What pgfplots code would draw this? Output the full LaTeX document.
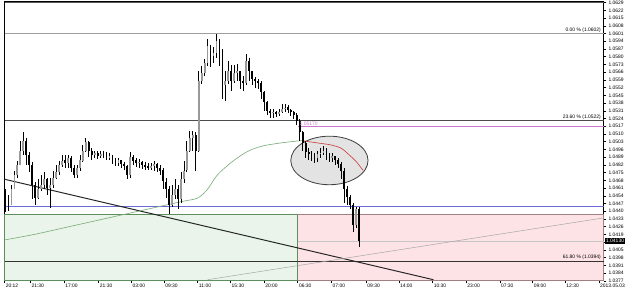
\documentclass[border=0pt]{standalone}
\usepackage{pgfplots}
\pgfplotsset{compat=1.18}
\usepackage{pgfplotstable}
\usepackage{fontspec}
\setmainfont{Liberation Sans}
\newcommand\tfont{\fontsize{3}{3.4}\selectfont}
\definecolor{grect}{HTML}{EAF4EA}
\definecolor{gbord}{HTML}{5C8F5C}
\definecolor{prect}{HTML}{FDE3E6}
\definecolor{pbord}{HTML}{A08080}
\definecolor{purp}{HTML}{CC77CC}
\definecolor{blu}{HTML}{6B6BD6}
\definecolor{mag}{HTML}{7FB07F}
\definecolor{mar}{HTML}{CC4444}

\pgfplotstableread{
x o h l c
1 1.0455 1.0460 1.0439 1.0451
4 1.0451 1.0455 1.0440 1.0446
7 1.0446 1.0464 1.0446 1.0460
10 1.0460 1.0477 1.0460 1.0473
13 1.0473 1.0486 1.0470 1.0482
16 1.0482 1.0504 1.0482 1.0495
19 1.0495 1.0512 1.0491 1.0504
22 1.0504 1.0506 1.0482 1.0491
25 1.0491 1.0494 1.0476 1.0482
28 1.0482 1.0485 1.0451 1.0464
31 1.0464 1.0467 1.0446 1.0452
34 1.0452 1.0469 1.0451 1.0460
37 1.0460 1.0473 1.0458 1.0464
40 1.0464 1.0476 1.0460 1.0469
43 1.0469 1.0470 1.0455 1.0461
46 1.0461 1.0470 1.0443 1.0464
49 1.0464 1.0477 1.0461 1.0470
52 1.0470 1.0482 1.0469 1.0476
55 1.0476 1.0486 1.0473 1.0482
58 1.0482 1.0491 1.0480 1.0486
61 1.0486 1.0491 1.0479 1.0484
64 1.0484 1.0491 1.0479 1.0488
67 1.0488 1.0490 1.0476 1.0479
70 1.0479 1.0482 1.0470 1.0473
73 1.0473 1.0482 1.0470 1.0479
76 1.0479 1.0491 1.0477 1.0486
79 1.0486 1.0500 1.0485 1.0495
82 1.0495 1.0506 1.0494 1.0503
85 1.0503 1.0504 1.0489 1.0495
88 1.0495 1.0497 1.0486 1.0491
91 1.0491 1.0495 1.0488 1.0493
94 1.0493 1.0495 1.0487 1.0490
97 1.0490 1.0495 1.0488 1.0492
100 1.0492 1.0495 1.0488 1.0491
103 1.0491 1.0494 1.0486 1.0489
106 1.0489 1.0493 1.0486 1.0490
109 1.0490 1.0491 1.0483 1.0486
112 1.0486 1.0488 1.0481 1.0484
115 1.0484 1.0488 1.0481 1.0486
118 1.0486 1.0486 1.0479 1.0483
121 1.0483 1.0485 1.0477 1.0481
124 1.0481 1.0482 1.0469 1.0473
127 1.0473 1.0494 1.0470 1.0489
130 1.0489 1.0491 1.0482 1.0486
133 1.0486 1.0488 1.0480 1.0484
136 1.0484 1.0487 1.0479 1.0485
139 1.0485 1.0486 1.0478 1.0482
142 1.0482 1.0485 1.0477 1.0481
145 1.0481 1.0484 1.0477 1.0479
148 1.0479 1.0484 1.0477 1.0481
151 1.0481 1.0486 1.0477 1.0483
154 1.0483 1.0484 1.0476 1.0479
157 1.0479 1.0482 1.0473 1.0477
160 1.0477 1.0479 1.0460 1.0467
163 1.0467 1.0470 1.0452 1.0460
166 1.0460 1.0463 1.0438 1.0446
169 1.0446 1.0464 1.0444 1.0455
172 1.0455 1.0469 1.0451 1.0460
175 1.0460 1.0464 1.0442 1.0451
178 1.0451 1.0476 1.0448 1.0469
181 1.0469 1.0486 1.0466 1.0477
184 1.0477 1.0504 1.0476 1.0495
187 1.0495 1.0513 1.0494 1.0506
190 1.0506 1.0513 1.0495 1.0509
193 1.0509 1.0512 1.0477 1.0495
196 1.0495 1.0567 1.0494 1.0558
199 1.0558 1.0572 1.0555 1.0565
202 1.0565 1.0578 1.0563 1.0574
205 1.0574 1.0596 1.0572 1.0590
208 1.0590 1.0591 1.0571 1.0581
211 1.0581 1.0589 1.0574 1.0583
214 1.0583 1.0601 1.0579 1.0594
217 1.0594 1.0596 1.0572 1.0585
220 1.0585 1.0587 1.0542 1.0554
223 1.0554 1.0567 1.0540 1.0558
226 1.0558 1.0576 1.0555 1.0567
229 1.0567 1.0573 1.0549 1.0558
232 1.0558 1.0573 1.0556 1.0565
235 1.0565 1.0573 1.0558 1.0567
238 1.0567 1.0567 1.0551 1.0558
241 1.0558 1.0563 1.0549 1.0556
244 1.0556 1.0582 1.0554 1.0576
247 1.0576 1.0579 1.0558 1.0567
250 1.0567 1.0567 1.0554 1.0560
253 1.0560 1.0562 1.0552 1.0558
256 1.0558 1.0560 1.0551 1.0556
259 1.0556 1.0558 1.0542 1.0548
262 1.0548 1.0549 1.0531 1.0539
265 1.0539 1.0540 1.0527 1.0531
268 1.0531 1.0533 1.0525 1.0529
271 1.0529 1.0533 1.0525 1.0530
274 1.0530 1.0531 1.0525 1.0528
277 1.0528 1.0533 1.0526 1.0530
280 1.0530 1.0537 1.0529 1.0533
283 1.0533 1.0537 1.0530 1.0534
286 1.0534 1.0536 1.0529 1.0532
289 1.0532 1.0533 1.0526 1.0530
292 1.0530 1.0531 1.0524 1.0527
295 1.0527 1.0529 1.0518 1.0522
298 1.0522 1.0524 1.0504 1.0512
301 1.0512 1.0513 1.0495 1.0502
304 1.0502 1.0504 1.0488 1.0494
307 1.0494 1.0497 1.0486 1.0492
310 1.0492 1.0495 1.0486 1.0491
313 1.0491 1.0493 1.0484 1.0488
316 1.0488 1.0495 1.0485 1.0492
319 1.0492 1.0497 1.0488 1.0493
322 1.0493 1.0499 1.0491 1.0495
325 1.0495 1.0497 1.0486 1.0491
328 1.0491 1.0493 1.0485 1.0489
331 1.0489 1.0493 1.0485 1.0490
334 1.0490 1.0490 1.0482 1.0486
337 1.0486 1.0488 1.0479 1.0483
340 1.0483 1.0485 1.0469 1.0477
343 1.0477 1.0479 1.0448 1.0460
346 1.0460 1.0463 1.0446 1.0453
349 1.0453 1.0455 1.0442 1.0446
352 1.0446 1.0448 1.0421 1.0428
355 1.0428 1.0444 1.0425 1.0442
358 1.0442 1.0444 1.0408 1.0413
}\candles

\begin{document}
\begin{tikzpicture}
\begin{axis}[
  scale only axis, width=363pt, height=169.2pt,
  xmin=0, xmax=605, ymin=1.0377, ymax=1.0630,
  clip=false,
  axis line style={black, line width=0.5pt},
  tick align=outside, major tick length=1.6pt,
  tick style={black, line width=0.3pt},
  ytick pos=right, yticklabel pos=right,
  xtick pos=bottom,
  ytick={1.0377,1.0384,1.0391,1.0398,1.0405,1.0412,1.0419,1.0426,1.0433,1.0440,1.0447,1.0454,1.0461,1.0468,1.0475,1.0482,1.0489,1.0496,1.0503,1.0510,1.0517,1.0524,1.0531,1.0538,1.0545,1.0552,1.0559,1.0566,1.0573,1.0580,1.0587,1.0594,1.0601,1.0608,1.0615,1.0622,1.0629},
  yticklabel style={font=\tfont, inner sep=0.5pt, xshift=0.6pt, /pgf/number format/.cd, fixed, fixed zerofill, precision=4, assume math mode=true},
  xtick={0,26,60,95,128,161,195,228,262,296,330,365,398,432,466,500,533,566,600},
  xticklabels={20:12,21:30,17:00,21:30,03:00,09:30,11:00,15:30,20:00,06:30,07:00,09:30,14:00,10:30,23:00,07:30,09:00,12:30,2013.05.03},
  xticklabel style={font=\tfont, anchor=north west, inner sep=0pt, xshift=0.6pt, yshift=-0.4pt},
  scaled y ticks=false,
]
% zones
\addplot[fill=grect, draw=gbord, line width=0.5pt] coordinates {(0,1.0377) (296,1.0377) (296,1.0437) (0,1.0437)} -- cycle;
\addplot[fill=prect, draw=pbord, line width=0.4pt] coordinates {(296,1.0377) (605,1.0377) (605,1.0437) (296,1.0437)} -- cycle;
\addplot[gbord, line width=0.5pt] coordinates {(296,1.0377) (296,1.0437)};
% horizontal levels
\addplot[gray!70!black, line width=0.9pt] coordinates {(0,1.0629) (605,1.0629)};
\addplot[gray!75, line width=0.7pt] coordinates {(0,1.0601) (605,1.0601)};
\addplot[gray!60!black, line width=0.5pt] coordinates {(0,1.0522) (605,1.0522)};
\addplot[purp, line width=0.6pt] coordinates {(296,1.0517) (605,1.0517)};
\addplot[blu, line width=0.6pt] coordinates {(0,1.0444) (605,1.0444)};
\addplot[gray!45, line width=0.3pt] coordinates {(296,1.0413) (605,1.0413)};
\addplot[black!80, line width=0.5pt] coordinates {(0,1.0395) (605,1.0395)};
% trend lines
\addplot[black!85, line width=0.6pt] coordinates {(0,1.0469) (433,1.0378)};
\addplot[gray!70, line width=0.3pt] coordinates {(205,1.0378) (605,1.0434)};
% ellipse
\draw[fill=gray!22, draw=gray!50!black, line width=0.5pt] (axis cs:328,1.0486) ellipse [x radius=23.4pt, y radius=14.7pt];
% moving averages
\addplot[mag, line width=0.4pt, smooth] coordinates {(0,1.0414) (30,1.0419) (60,1.0425) (90,1.0431) (120,1.0437) (145,1.0442) (165,1.0446) (180,1.0449) (195,1.0452) (205,1.0460) (215,1.0473) (230,1.0485) (245,1.0494) (260,1.0499) (280,1.0502) (300,1.0504)};
\addplot[mar, line width=0.4pt, smooth] coordinates {(300,1.0504) (315,1.0502) (330,1.0500) (340,1.0497) (348,1.0491) (355,1.0485) (362,1.0477)};
% candles: wicks
\addplot[draw=none, mark=none, error bars/.cd, y dir=both, y explicit, error mark=none, error bar style={draw=black, line width=0.35pt}]
  table[x=x, y expr={(\thisrow{h}+\thisrow{l})/2}, y error expr={(\thisrow{h}-\thisrow{l})/2}] {\candles};
% bodies up
\addplot[draw=none, mark=none, restrict expr to domain={\thisrow{c}-\thisrow{o}}{0:1}, error bars/.cd, y dir=both, y explicit, error mark=none, error bar style={draw=gray!80, line width=1.1pt}]
  table[x=x, y expr={(\thisrow{o}+\thisrow{c})/2}, y error expr={abs(\thisrow{o}-\thisrow{c})/2}] {\candles};
% bodies down
\addplot[draw=none, mark=none, restrict expr to domain={\thisrow{c}-\thisrow{o}}{-1:0}, error bars/.cd, y dir=both, y explicit, error mark=none, error bar style={draw=black, line width=1.1pt}]
  table[x=x, y expr={(\thisrow{o}+\thisrow{c})/2}, y error expr={abs(\thisrow{o}-\thisrow{c})/2}] {\candles};
% labels
\node[font=\tfont, anchor=south east, inner sep=0.4pt] at (axis cs:603,1.0601) {0.00 \% (1.0602)};
\node[font=\tfont, anchor=south east, inner sep=0.4pt] at (axis cs:603,1.0522) {23.60 \% (1.0522)};
\node[font=\tfont, anchor=south east, inner sep=0.4pt] at (axis cs:603,1.0395) {61.80 \% (1.0394)};
\node[font=\tfont, text=purp, anchor=south west, inner sep=0.4pt] at (axis cs:297,1.0517) {1.05170};
\node[font=\tfont, fill=black, text=white, anchor=west, inner sep=0.6pt] at (axis cs:606,1.0413) {1.04130};
\end{axis}
\path (current axis.south west) ++(0,-3.6pt) rectangle ([xshift=12pt]current axis.north east);
\end{tikzpicture}
\end{document}
